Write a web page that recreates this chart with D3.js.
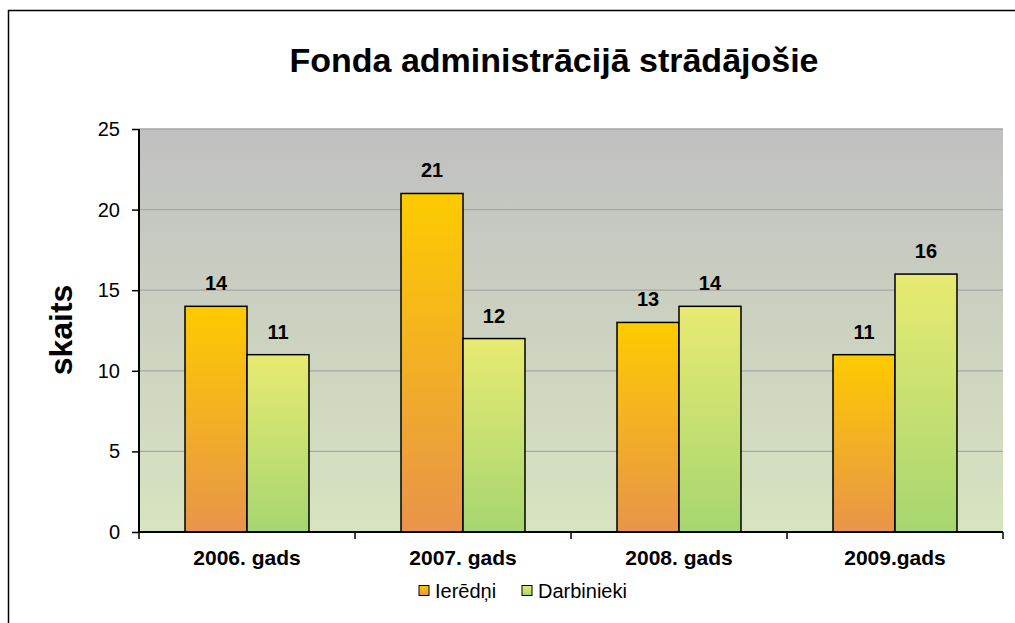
<!DOCTYPE html>
<html>
<head>
<meta charset="utf-8">
<script src="https://cdn.jsdelivr.net/npm/d3@7"></script>
<style>
  html, body { margin: 0; padding: 0; background: #fff; }
  svg { display: block; font-family: Arial, "Liberation Sans", sans-serif; }
</style>
</head>
<body>
<svg id="chart" width="1015" height="623"></svg>
<script>
// Chart data
const categories = ["2006. gads", "2007. gads", "2008. gads", "2009.gads"];
const seriesNames = ["Ierēdņi", "Darbinieki"];
const ieredni = [14, 21, 13, 11];
const darbinieki = [11, 12, 14, 16];
const yTicks = [0, 5, 10, 15, 20, 25];

const FONT = "Arial, 'Liberation Sans', sans-serif";
const svg = d3.select("#chart");
const plot = { left: 139, top: 129, right: 1003, bottom: 532 };

// Outer frame (opens beyond the right and bottom edges)
svg.append("path")
  .attr("d", "M8.5,623 L8.5,10.5 L1015,10.5")
  .attr("fill", "none").attr("stroke", "#000").attr("stroke-width", 1.5);

const defs = svg.append("defs");
function vGrad(id, top, bottom) {
  const g = defs.append("linearGradient").attr("id", id)
    .attr("x1", 0).attr("y1", 0).attr("x2", 0).attr("y2", 1);
  g.append("stop").attr("offset", "0%").attr("stop-color", top);
  g.append("stop").attr("offset", "100%").attr("stop-color", bottom);
}
vGrad("bgGrad", "#c0c0c0", "#d8e4c0");
vGrad("gradA", "#fdcb00", "#e8944a");
vGrad("gradB", "#e8ea72", "#a6d670");

const x0 = d3.scaleBand().domain(categories)
  .range([plot.left, plot.right]).paddingInner(0.426).paddingOuter(0.213);
const x1 = d3.scaleBand().domain(seriesNames).range([0, x0.bandwidth()]);
const y = d3.scaleLinear().domain([0, 25]).range([plot.bottom, plot.top]);

// Plot background
svg.append("rect")
  .attr("x", plot.left).attr("y", plot.top)
  .attr("width", plot.right - plot.left).attr("height", plot.bottom - plot.top)
  .attr("fill", "url(#bgGrad)");

// Gridlines
svg.append("g").selectAll("line").data(yTicks.filter(d => d > 0)).join("line")
  .attr("x1", plot.left).attr("x2", plot.right)
  .attr("y1", d => y(d)).attr("y2", d => y(d))
  .attr("stroke", "#a6a6a6").attr("stroke-width", 1.3);

// Bars with value labels
const series = [
  { name: seriesNames[0], values: ieredni, fill: "url(#gradA)" },
  { name: seriesNames[1], values: darbinieki, fill: "url(#gradB)" }
];
series.forEach(s => {
  const g = svg.append("g");
  g.selectAll("rect").data(categories).join("rect")
    .attr("x", (c) => x0(c) + x1(s.name))
    .attr("y", (c, i) => y(s.values[i]))
    .attr("width", x1.bandwidth())
    .attr("height", (c, i) => plot.bottom - y(s.values[i]))
    .attr("fill", s.fill)
    .attr("stroke", "#000").attr("stroke-width", 1.5);
  g.selectAll("text").data(categories).join("text")
    .attr("x", (c) => x0(c) + x1(s.name) + x1.bandwidth() / 2)
    .attr("y", (c, i) => y(s.values[i]) - 16)
    .attr("text-anchor", "middle")
    .attr("font-size", 20).attr("font-weight", "bold")
    .text((c, i) => s.values[i]);
});

// Y axis
const yAxis = svg.append("g").attr("transform", `translate(${plot.left},0)`)
  .call(d3.axisLeft(y).tickValues(yTicks).tickSize(7).tickPadding(12));
yAxis.select(".domain").attr("stroke", "#000").attr("stroke-width", 2)
  .attr("d", `M0,${plot.top}V${plot.bottom}`);
yAxis.selectAll(".tick line").attr("stroke", "#000").attr("stroke-width", 1.5);
yAxis.selectAll(".tick text").attr("font-size", 20).attr("font-family", FONT).attr("fill", "#000");

// X axis with ticks at the category boundaries
const xAxisG = svg.append("g");
xAxisG.append("line")
  .attr("x1", plot.left).attr("x2", plot.right)
  .attr("y1", plot.bottom).attr("y2", plot.bottom)
  .attr("stroke", "#000").attr("stroke-width", 2);
const boundaries = categories.map(c => x0(c) - x0.step() * 0.213).concat([plot.right]);
xAxisG.selectAll("line.tk").data(boundaries).join("line").attr("class", "tk")
  .attr("x1", d => d).attr("x2", d => d)
  .attr("y1", plot.bottom).attr("y2", plot.bottom + 7)
  .attr("stroke", "#000").attr("stroke-width", 1.5);
xAxisG.selectAll("text").data(categories).join("text")
  .attr("x", c => x0(c) + x0.bandwidth() / 2)
  .attr("y", 565)
  .attr("text-anchor", "middle")
  .attr("font-size", 21).attr("font-weight", "bold")
  .text(c => c);

// Title
svg.append("text")
  .attr("x", 554).attr("y", 72)
  .attr("text-anchor", "middle")
  .attr("font-size", 34).attr("font-weight", "bold")
  .text("Fonda administrācijā strādājošie");

// Y axis title
svg.append("text")
  .attr("transform", "translate(72,330) rotate(-90)")
  .attr("text-anchor", "middle")
  .attr("font-size", 32).attr("font-weight", "bold")
  .text("skaits");

// Legend
const legendItems = [
  { name: seriesNames[0], fill: "url(#gradA)", x: 419 },
  { name: seriesNames[1], fill: "url(#gradB)", x: 522 }
];
const lg = svg.append("g");
legendItems.forEach(it => {
  lg.append("rect").attr("x", it.x).attr("y", 585.5)
    .attr("width", 10).attr("height", 10)
    .attr("fill", it.fill).attr("stroke", "#000").attr("stroke-width", 1);
  lg.append("text").attr("x", it.x + 16).attr("y", 598)
    .attr("font-size", 20).text(it.name);
});
</script>
</body>
</html>
